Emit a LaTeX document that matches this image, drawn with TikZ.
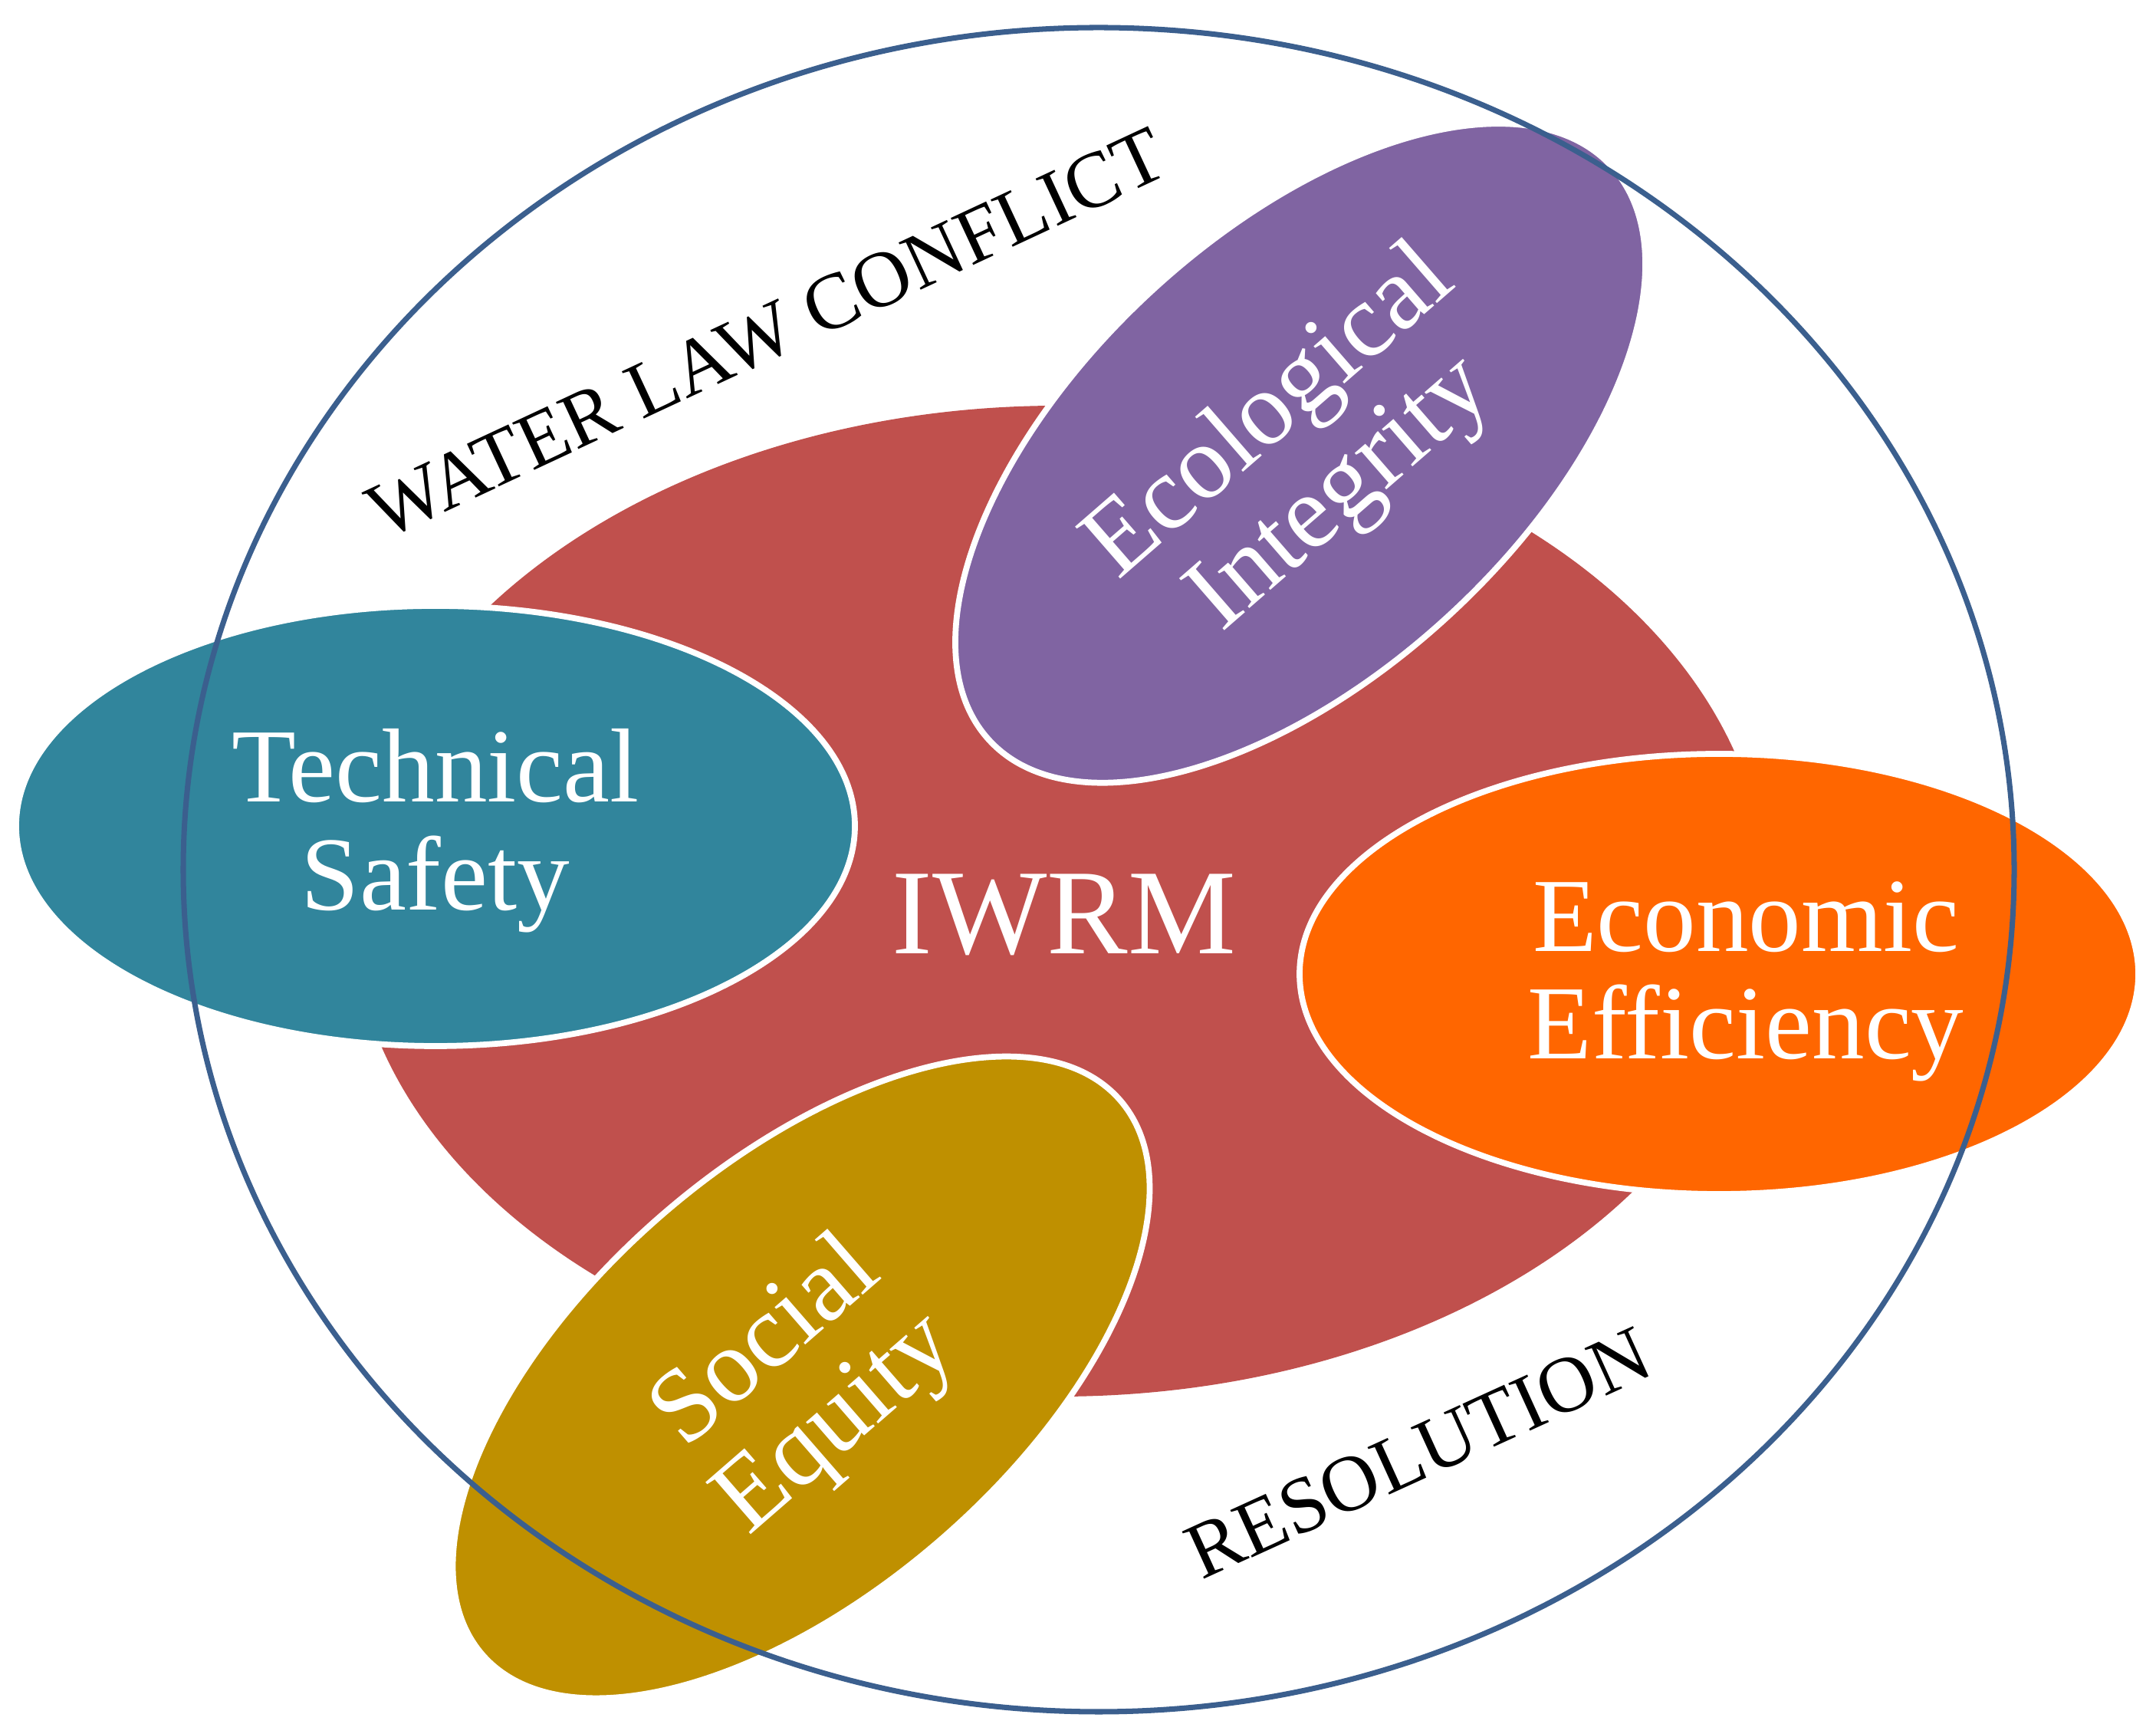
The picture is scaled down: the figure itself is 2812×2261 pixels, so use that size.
\documentclass[tikz,border=0pt]{standalone}
\usepackage{fontspec}
\setmainfont{Liberation Serif}
\definecolor{iwred}{HTML}{C0504D}
\definecolor{iwteal}{HTML}{31859C}
\definecolor{iwpurple}{HTML}{8064A2}
\definecolor{iworange}{HTML}{FF6600}
\definecolor{iwgold}{HTML}{BF9000}
\definecolor{iwblue}{HTML}{3B5F8E}
\begin{document}
\begin{tikzpicture}[x=0.01cm,y=0.01cm,
  blob/.style={draw=white,line width=2.2pt},
  lbl/.style={text=white,inner sep=0pt,align=center,font=\fontsize{39}{40}\selectfont},
  outertext/.style={text=black,inner sep=0pt,font=\fontsize{29.5}{31}\selectfont},
  ring/.style={draw=iwblue,line width=2pt}]
\useasboundingbox (0,0) rectangle (2812,2261);
\fill[white] (0,0) rectangle (2812,2261);
% central ellipse
\fill[iwred] (1381,1086) ellipse [x radius=924, y radius=646];
% satellites
\filldraw[blob, fill=iwteal] (568,1184) ellipse [x radius=547, y radius=287];
\filldraw[blob, fill=iwpurple, rotate around={42.7:(1696,1670)}] (1696,1670) ellipse [x radius=552, y radius=287];
\filldraw[blob, fill=iworange] (2242,991) ellipse [x radius=547, y radius=287];
\filldraw[blob, fill=iwgold, rotate around={41:(1045,465)}] (1045,465) ellipse [x radius=551, y radius=279];
% outer ring
\draw[ring] (1433,1127) ellipse [x radius=1194, y radius=1098];
% labels
\node[text=white,inner sep=0pt,font=\fontsize{45}{48}\selectfont] (iwrm) at (1388,1068) {IWRM};
\node[lbl] (tech) at (568,1178) {Technical\\Safety};
\node[lbl] (econ) at (2277,981) {Economic\\Efficiency};
\node[lbl, rotate=41] (eco) at (1704,1668) {Ecological\\Integrity};
\node[lbl, rotate=41] (soc) at (1047,455) {Social\\Equity};
\node[outertext, rotate=25] (wlc) at (1000,1826) {WATER LAW CONFLICT};
\node[outertext, rotate=24.5] (res) at (1850,366) {RESOLUTION};
\end{tikzpicture}
\end{document}
